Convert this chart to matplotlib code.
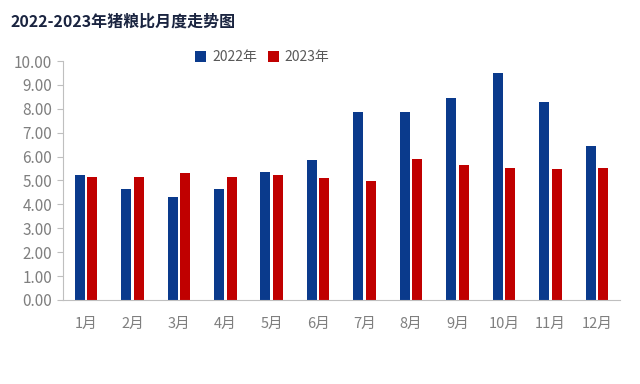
import numpy as np
import matplotlib.pyplot as plt

plt.rcParams['font.family'] = ['Noto Sans CJK SC', 'DejaVu Sans']

months = ['1月', '2月', '3月', '4月', '5月', '6月', '7月', '8月', '9月', '10月', '11月', '12月']
y2022 = [5.21, 4.65, 4.29, 4.65, 5.35, 5.85, 7.85, 7.88, 8.47, 9.48, 8.29, 6.46]
y2023 = [5.14, 5.14, 5.32, 5.14, 5.21, 5.11, 4.99, 5.88, 5.63, 5.54, 5.47, 5.54]

blue = '#0a3a8c'
red = '#c00000'
grey = '#7f7f7f'

fig = plt.figure(figsize=(6.4, 3.84), dpi=100)
ax = fig.add_axes([0.098, 0.219, 0.871, 0.622])

x = np.arange(len(months))
w = 0.215
ax.bar(x - 0.135, y2022, w, color=blue, label='2022年')
ax.bar(x + 0.135, y2023, w, color=red, label='2023年')

ax.set_xlim(-0.5, 11.5)
ax.set_ylim(0, 10)
ax.set_yticks(np.arange(0, 11, 1))
ax.set_yticklabels(['%.2f' % v for v in np.arange(0, 11, 1)])
ax.set_xticks(x)
ax.set_xticklabels(months)

for s in ['top', 'right']:
    ax.spines[s].set_visible(False)
for s in ['left', 'bottom']:
    ax.spines[s].set_color('#bfbfbf')
ax.tick_params(axis='y', colors='#bfbfbf', labelcolor=grey, labelsize=11, length=4)
ax.tick_params(axis='x', length=0, labelcolor=grey, labelsize=10.5, pad=12)

fig.text(0.016, 0.945, '2022-2023年猪粮比月度走势图', fontsize=11.5, fontweight='bold',
         color='#1a2440', va='center')

leg = fig.legend(loc='center', bbox_to_anchor=(0.41, 0.851), ncol=2, frameon=False,
                 fontsize=10, handlelength=0.8, handleheight=0.8, handletextpad=0.4,
                 columnspacing=0.8)
for t in leg.get_texts():
    t.set_color('#595959')

fig.savefig('out.png', dpi=100)
